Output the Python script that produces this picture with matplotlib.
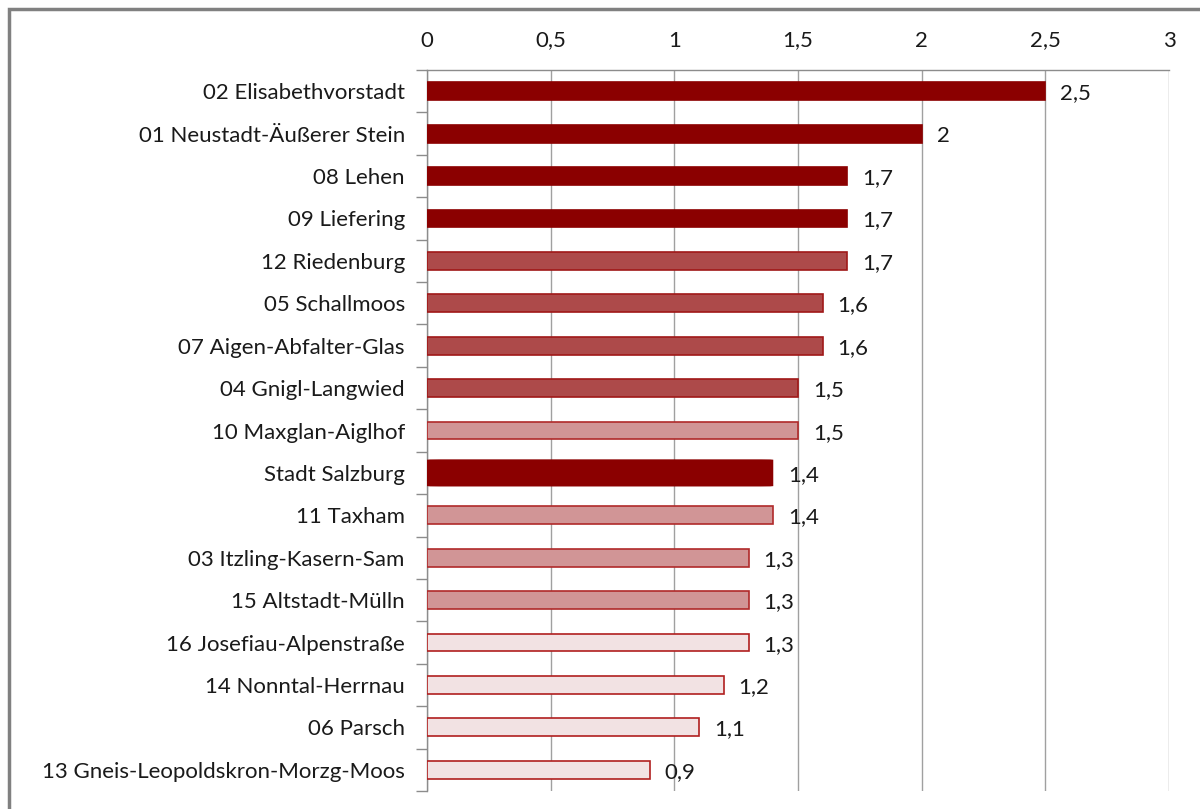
import numpy as np
import matplotlib.pyplot as plt
from matplotlib.patches import Rectangle, FancyBboxPatch

plt.rcParams['font.family'] = ['Lato', 'DejaVu Sans']

districts = [
    "02 Elisabethvorstadt", "01 Neustadt-Äußerer Stein", "08 Lehen", "09 Liefering",
    "12 Riedenburg", "05 Schallmoos", "07 Aigen-Abfalter-Glas", "04 Gnigl-Langwied",
    "10 Maxglan-Aiglhof", "Stadt Salzburg", "11 Taxham", "03 Itzling-Kasern-Sam",
    "15 Altstadt-Mülln", "16 Josefiau-Alpenstraße", "14 Nonntal-Herrnau", "06 Parsch",
    "13 Gneis-Leopoldskron-Morzg-Moos",
]
values = [2.5, 2.0, 1.7, 1.7, 1.7, 1.6, 1.6, 1.5, 1.5, 1.4, 1.4, 1.3, 1.3, 1.3, 1.2, 1.1, 0.9]
# colour class of each bar: 0 dark, 1 medium, 2 light, 3 very light, 4 city total
classes = [0, 0, 0, 0, 1, 1, 1, 1, 2, 4, 2, 2, 2, 3, 3, 3, 3]
xticks = [0, 0.5, 1, 1.5, 2, 2.5, 3]

fills = {0: "#8b0000", 1: "#ad4a4a", 2: "#d19596", 3: "#f2e2e3", 4: "#8b0000"}
edges = {0: "#8b0000", 1: "#a01818", 2: "#b02a2a", 3: "#b01f1f", 4: "#8b0000"}

fig = plt.figure(figsize=(12, 8.09), dpi=100)
ax = fig.add_axes([427 / 1200, 1 - 791 / 809, (1169 - 427) / 1200, (791 - 70) / 809])

y = np.arange(len(districts))
for i, (v, c) in enumerate(zip(values, classes)):
    if c == 4:
        # city total: thicker bar with rounded corners
        ax.add_patch(FancyBboxPatch((0, i - 0.32), v, 0.64,
                                    boxstyle="round,pad=0,rounding_size=0.05",
                                    mutation_aspect=1 / 5.8,
                                    facecolor=fills[c], edgecolor=fills[c], lw=0, zorder=3))
    else:
        ax.barh(i, v, height=0.42, color=fills[c], edgecolor=edges[c], linewidth=1.2, zorder=3)
    ax.text(v + 0.06, i + 0.05, f"{v:g}".replace(".", ","), va="center", ha="left",
            fontsize=16, color="#1a1a1a")

ax.set_xlim(0, 3)
ax.set_ylim(len(districts) - 0.5, -0.5)
ax.set_xticks(xticks)
ax.set_xticklabels([f"{t:g}".replace(".", ",") for t in xticks], fontsize=16, color="#1a1a1a")
ax.xaxis.tick_top()
ax.tick_params(axis="x", length=0, pad=14)
ax.set_yticks(y)
ax.set_yticklabels(districts, fontsize=16, color="#1a1a1a")
ax.tick_params(axis="y", which="major", length=0, pad=16)
ax.set_yticks(np.arange(-0.5, len(districts)), minor=True)
ax.tick_params(axis="y", which="minor", length=8, color="#8c8c8c", width=1)
ax.grid(axis="x", color="#a0a0a0", linewidth=1, zorder=0)
ax.set_axisbelow(True)
for s in ["right", "bottom"]:
    ax.spines[s].set_visible(False)
for s in ["left", "top"]:
    ax.spines[s].set_color("#8c8c8c")
    ax.spines[s].set_linewidth(1)

fig.patches.append(Rectangle((9 / 1200, -0.1), 1.2, 1 - 9 / 809 + 0.1, transform=fig.transFigure,
                             fill=False, edgecolor="#808080", linewidth=2.5))

fig.savefig("out.png", dpi=100)
